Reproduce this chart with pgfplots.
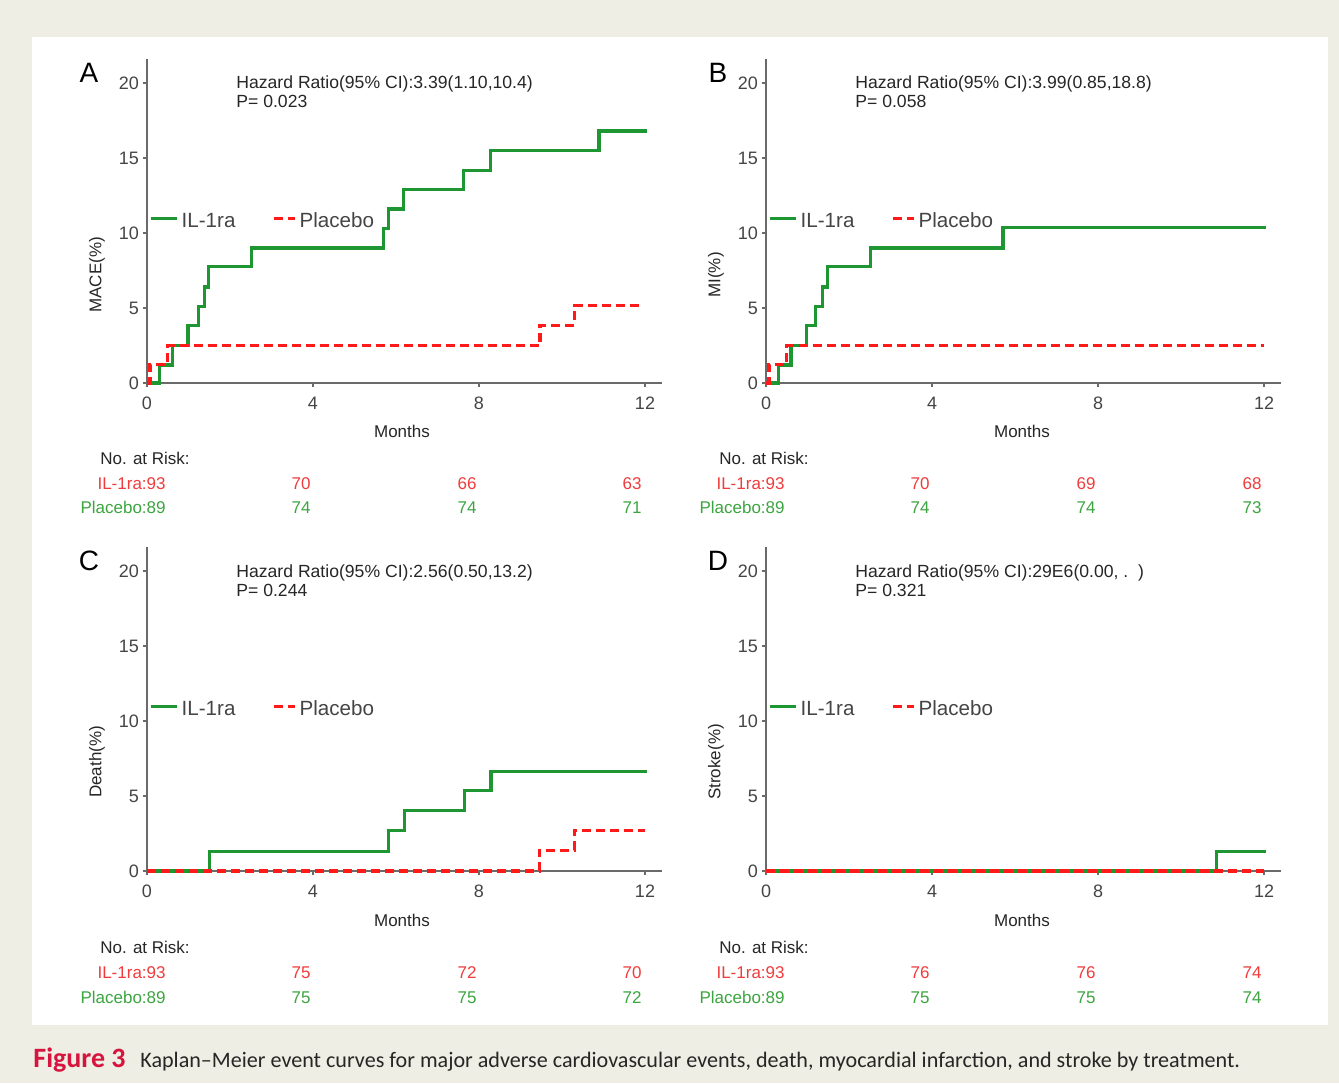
\documentclass[border=0pt]{standalone}
\usepackage{pgfplots}
\pgfplotsset{compat=1.18}
\usepackage{fontspec}
\setmainfont{Liberation Sans}
\newfontfamily\capfont[Ligatures=TeX]{Carlito}
\definecolor{bg}{HTML}{EFEEE4}
\definecolor{kmgreen}{HTML}{1E9632}
\definecolor{kmred}{HTML}{FF1A1A}
\definecolor{rgreen}{HTML}{3DA540}
\definecolor{rred}{HTML}{F03C3C}
\definecolor{axgray}{HTML}{6A6A6A}
\definecolor{txtgray}{HTML}{454545}
\definecolor{figred}{HTML}{D6153F}
\definecolor{captxt}{HTML}{262626}

\pgfplotsset{
 kmaxis/.style={
   scale only axis, width=257.3pt, height=162pt,
   xmin=0, xmax=12.4, ymin=0, ymax=21.6,
   axis lines=left, axis line style={-, draw=axgray, line width=1pt},
   xtick={0,4,8,12}, ytick={0,5,10,15,20},
   tick align=outside, major tick length=2pt,
   tick style={draw=axgray, line width=0.8pt},
   ticklabel style={font=\fontsize{9}{10}\selectfont, text=txtgray},
   yticklabel style={xshift=1.5pt},
   xticklabel style={yshift=-1.5pt},
   /pgf/number format/assume math mode=true,
   clip=false, anchor=south west,
   legend columns=2,
   legend style={at={(axis description cs:0.004,0.498)}, anchor=west, draw=none, fill=none,
     inner sep=0pt, font=\fontsize{10.3}{11}\selectfont, text=txtgray,
     nodes={inner sep=1.5pt},
     /tikz/every even column/.append style={column sep=17pt}},
   legend cell align=left,
 },
 ilra/.style={kmgreen, line width=1.6pt, const plot,
   legend image code/.code={\draw[##1] (0pt,1.5pt) -- (13pt,1.5pt);}},
 plac/.style={kmred, line width=1.6pt, dash pattern=on 4.5pt off 2.5pt, const plot,
   legend image code/.code={\draw[##1] (0pt,1.5pt) -- (10.5pt,1.5pt);}},
}

\begin{document}
\begin{tikzpicture}[x=0.5pt,y=0.5pt]
\fill[bg] (0,0) rectangle (1339,1083);
\fill[white] (32,58) rectangle (1328,1046);

\coordinate (oA) at (147,700);
\coordinate (oB) at (766,700);
\coordinate (oC) at (147,212);
\coordinate (oD) at (766,212);

% ---------- A: MACE
\begin{axis}[kmaxis, at={(oA)}]
\addplot[ilra] coordinates {(0,0) (0.30,1.2) (0.62,2.5) (0.99,3.85) (1.25,5.1) (1.38,6.4) (1.49,7.75) (2.51,9.0) (5.69,10.3) (5.81,11.6) (6.18,12.9) (7.63,14.15) (8.27,15.5) (10.89,16.8) (12.05,16.8)};
\addlegendentry{IL-1ra}
\addplot[plac] coordinates {(0,0) (0.07,1.25) (0.5,2.5) (9.47,3.85) (10.3,5.15) (11.87,5.15)};
\addlegendentry{Placebo}
\end{axis}

% ---------- B: MI
\begin{axis}[kmaxis, at={(oB)}]
\addplot[ilra] coordinates {(0,0) (0.3,1.2) (0.6,2.5) (0.97,3.85) (1.2,5.1) (1.36,6.4) (1.48,7.75) (2.51,9.0) (5.71,10.35) (12.05,10.35)};
\addlegendentry{IL-1ra}
\addplot[plac] coordinates {(0,0) (0.07,1.25) (0.5,2.5) (12.0,2.5)};
\addlegendentry{Placebo}
\end{axis}

% ---------- C: Death
\begin{axis}[kmaxis, at={(oC)}]
\addplot[ilra] coordinates {(0,0) (1.5,1.3) (5.82,2.7) (6.21,4.05) (7.66,5.35) (8.29,6.62) (12.05,6.62)};
\addlegendentry{IL-1ra}
\addplot[plac] coordinates {(0,0) (9.45,1.38) (10.3,2.72) (12.0,2.72)};
\addlegendentry{Placebo}
\end{axis}

% ---------- D: Stroke
\begin{axis}[kmaxis, at={(oD)}]
\addplot[ilra] coordinates {(0,0) (10.86,1.3) (12.05,1.3)};
\addlegendentry{IL-1ra}
\addplot[plac] coordinates {(0,0) (12.0,0)};
\addlegendentry{Placebo}
\end{axis}

% panel letters
\begin{scope}[every node/.style={inner sep=0pt, font=\fontsize{14}{16}\selectfont, anchor=base}]
\node at (89,1000) {A};
\node at (718,1000) {B};
\node at (89,512) {C};
\node at (718,512) {D};
\end{scope}

% hazard ratio texts
\begin{scope}[every node/.style={inner sep=0pt, font=\fontsize{8.8}{10}\selectfont, text=captxt, anchor=base west}]
\node at (236,994) {Hazard Ratio(95\% CI):3.39(1.10,10.4)};
\node at (236,975) {P= 0.023};
\node at (855,994) {Hazard Ratio(95\% CI):3.99(0.85,18.8)};
\node at (855,975) {P= 0.058};
\node at (236,505) {Hazard Ratio(95\% CI):2.56(0.50,13.2)};
\node at (236,486) {P= 0.244};
\node at (855,505) {Hazard Ratio(95\% CI):29E6(0.00, .\ \ )};
\node at (855,486) {P= 0.321};
\end{scope}

% axis labels
\begin{scope}[every node/.style={inner sep=0pt, font=\fontsize{8.5}{10}\selectfont, text=captxt}]
\node[anchor=base] at (402,645) {Months};
\node[anchor=base] at (1022,645) {Months};
\node[anchor=base] at (402,157) {Months};
\node[anchor=base] at (1022,157) {Months};
\node[rotate=90] at (97,808) {MACE(\%)};
\node[rotate=90] at (716,808) {MI(\%)};
\node[rotate=90] at (97,321) {Death(\%)};
\node[rotate=90] at (716,321) {Stroke(\%)};
\end{scope}

% numbers at risk
\begin{scope}[every node/.style={inner sep=0pt, font=\fontsize{8.5}{10}\selectfont}]
% A
\node[anchor=base, text=captxt] at (145,618) {No. at Risk:};
\node[anchor=base east, text=rred] at (166,593) {IL-1ra:93};
\node[anchor=base east, text=rgreen] at (166,569) {Placebo:89};
\node[anchor=base, text=rred] at (301,593) {70};
\node[anchor=base, text=rred] at (467,593) {66};
\node[anchor=base, text=rred] at (632,593) {63};
\node[anchor=base, text=rgreen] at (301,569) {74};
\node[anchor=base, text=rgreen] at (467,569) {74};
\node[anchor=base, text=rgreen] at (632,569) {71};
% B
\node[anchor=base, text=captxt] at (764,618) {No. at Risk:};
\node[anchor=base east, text=rred] at (785,593) {IL-1ra:93};
\node[anchor=base east, text=rgreen] at (785,569) {Placebo:89};
\node[anchor=base, text=rred] at (920,593) {70};
\node[anchor=base, text=rred] at (1086,593) {69};
\node[anchor=base, text=rred] at (1252,593) {68};
\node[anchor=base, text=rgreen] at (920,569) {74};
\node[anchor=base, text=rgreen] at (1086,569) {74};
\node[anchor=base, text=rgreen] at (1252,569) {73};
% C
\node[anchor=base, text=captxt] at (145,130) {No. at Risk:};
\node[anchor=base east, text=rred] at (166,105) {IL-1ra:93};
\node[anchor=base east, text=rgreen] at (166,80) {Placebo:89};
\node[anchor=base, text=rred] at (301,105) {75};
\node[anchor=base, text=rred] at (467,105) {72};
\node[anchor=base, text=rred] at (632,105) {70};
\node[anchor=base, text=rgreen] at (301,80) {75};
\node[anchor=base, text=rgreen] at (467,80) {75};
\node[anchor=base, text=rgreen] at (632,80) {72};
% D
\node[anchor=base, text=captxt] at (764,130) {No. at Risk:};
\node[anchor=base east, text=rred] at (785,105) {IL-1ra:93};
\node[anchor=base east, text=rgreen] at (785,80) {Placebo:89};
\node[anchor=base, text=rred] at (920,105) {76};
\node[anchor=base, text=rred] at (1086,105) {76};
\node[anchor=base, text=rred] at (1252,105) {74};
\node[anchor=base, text=rgreen] at (920,80) {75};
\node[anchor=base, text=rgreen] at (1086,80) {75};
\node[anchor=base, text=rgreen] at (1252,80) {74};
\end{scope}

% caption
\node[anchor=base west, inner sep=0pt, font=\capfont\bfseries\fontsize{14}{16}\selectfont, text=figred] at (33,16) {Figure 3};
\node[anchor=base west, inner sep=0pt, font=\capfont\fontsize{11.05}{13}\selectfont, text=captxt] at (140,16) {Kaplan–Meier event curves for major adverse cardiovascular events, death, myocardial infarction, and stroke by treatment.};

\pgfresetboundingbox
\useasboundingbox (0,0) rectangle (1339,1083);
\end{tikzpicture}
\end{document}
